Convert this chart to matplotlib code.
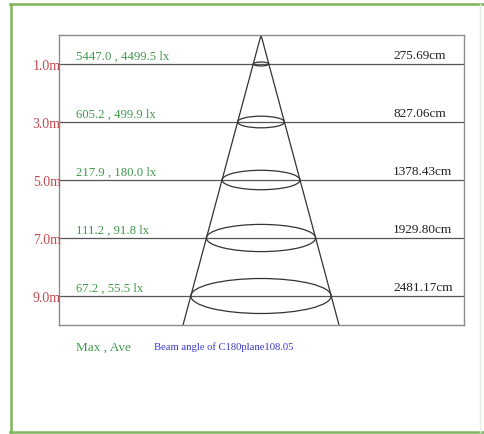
import matplotlib
matplotlib.use("Agg")
import matplotlib.pyplot as plt
from matplotlib.patches import Ellipse
from matplotlib.lines import Line2D
import matplotlib.transforms as mtransforms

# ---- data ----
depths = [1.0, 3.0, 5.0, 7.0, 9.0]
max_lux = [5447.0, 605.2, 217.9, 111.2, 67.2]
ave_lux = [4499.5, 499.9, 180.0, 91.8, 55.5]
diameters_cm = [275.69, 827.06, 1378.43, 1929.80, 2481.17]
beam_plane = "C180plane"
beam_angle = 108.05
max_depth = 10.0

plt.rcParams['font.family'] = ['Liberation Serif', 'DejaVu Serif']

W, H = 484, 434
fig = plt.figure(figsize=(W / 100, H / 100), dpi=100)
fig.patch.set_facecolor('white')

# green frame
green = '#7db55a'
fig.add_artist(Line2D([10 / W, 483 / W], [1 - 3.5 / H, 1 - 3.5 / H], color=green, lw=1.8, transform=fig.transFigure))
fig.add_artist(Line2D([10.5 / W, 10.5 / W], [1 - 3.5 / H, 1 - 432 / H], color=green, lw=1.8, transform=fig.transFigure))
fig.add_artist(Line2D([10 / W, 483 / W], [1 - 432 / H, 1 - 432 / H], color=green, lw=1.8, transform=fig.transFigure))
fig.add_artist(Line2D([480 / W, 480 / W], [1 - 3.5 / H, 1 - 432 / H], color='#e6efe0', lw=1.0, transform=fig.transFigure))

# axes box
L, R, T, B = 59, 464, 35, 325
ax = fig.add_axes([L / W, 1 - B / H, (R - L) / W, (B - T) / H])
ax.set_xlim(-3570, 3587)
ax.set_ylim(max_depth, 0)
ax.set_xticks([])
ax.set_yticks([])
for s in ax.spines.values():
    s.set_color('#8c8c8c')
    s.set_linewidth(1.0)

line_col = '#555555'
cone_col = '#333333'

# horizontal depth lines
for d in depths:
    ax.axhline(d, color=line_col, lw=0.9, zorder=1)

# cone sides
r_bottom = diameters_cm[0] / 2 * max_depth / depths[0]
ax.plot([0, -r_bottom], [0, max_depth], color=cone_col, lw=0.9, zorder=2)
ax.plot([0, r_bottom], [0, max_depth], color=cone_col, lw=0.9, zorder=2)

# ellipses
for d, dia in zip(depths, diameters_cm):
    e = Ellipse((0, d), width=dia, height=0.134 * d, fill=False,
                edgecolor=cone_col, lw=0.9, zorder=3)
    ax.add_patch(e)

trans = mtransforms.blended_transform_factory(ax.transAxes, ax.transData)
txt_green = '#3f9a4a'
for d, mx, av, dia in zip(depths, max_lux, ave_lux, diameters_cm):
    ax.text(0.042, d - 0.06, f"{mx:.1f} , {av:.1f} lx", transform=trans,
            color=txt_green, fontsize=9.2, ha='left', va='bottom')
    ax.text(0.825, d - 0.06, f"{dia:.2f}cm", transform=trans,
            color='#222222', fontsize=9.5, ha='left', va='bottom')
    ax.text(0.004, d + 0.09, f"{d:.1f}m", transform=trans,
            color='#c04a50', fontsize=10, ha='right', va='center', clip_on=False)

ax.text(0.042, -0.079, "Max , Ave", transform=ax.transAxes, color=txt_green,
        fontsize=9.5, ha='left', va='center')
ax.text(0.235, -0.076, f"Beam angle of {beam_plane}{beam_angle:.2f}", transform=ax.transAxes,
        color='#3a3acc', fontsize=7.7, ha='left', va='center')

fig.savefig('out.png', dpi=100, facecolor='white')
